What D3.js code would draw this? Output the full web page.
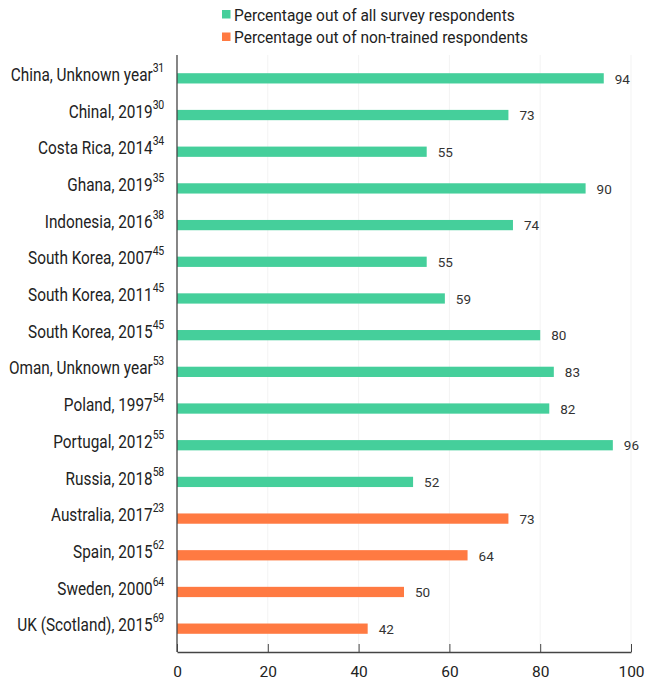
<!DOCTYPE html>
<html><head><meta charset="utf-8">
<script src="https://cdn.jsdelivr.net/npm/d3@7"></script>
<style>
body{margin:0;background:#fff;}
text{font-family:Roboto,"Open Sans",sans-serif;}
</style></head>
<body><svg id="c" width="647" height="687"></svg>
<script>
const categories = ["China, Unknown year","Chinal, 2019","Costa Rica, 2014","Ghana, 2019","Indonesia, 2016","South Korea, 2007","South Korea, 2011","South Korea, 2015","Oman, Unknown year","Poland, 1997","Portugal, 2012","Russia, 2018","Australia, 2017","Spain, 2015","Sweden, 2000","UK (Scotland), 2015"];
const refs = ["31","30","34","35","38","45","45","45","53","54","55","58","23","62","64","69"];
const values = [94,73,55,90,74,55,59,80,83,82,96,52,73,64,50,42];
const seriesIdx = [0,0,0,0,0,0,0,0,0,0,0,0,1,1,1,1];
const seriesNames = ["Percentage out of all survey respondents","Percentage out of non-trained respondents"];
const colors = ["#45CF9B","#FF7A42"];
const xTicks = [0,20,40,60,80,100];

const svg = d3.select("#c");
const x = d3.scaleLinear().domain([0,100]).range([177,631]);
const y = d3.scaleBand().domain(categories).range([60,647]).paddingInner(0.72).paddingOuter(0.36);
const axisY = 652;

function factor(str, size, target){
  const p = svg.append("text").attr("font-size",size).text(str);
  const w = p.node().getComputedTextLength(); p.remove();
  return Math.min(1.1, target / w);
}
const FL = factor(seriesNames[0], 17, 281);
const FC = factor(categories[0], 17.5, 142);
function place(sel, xf, yf, f){
  sel.attr("transform",(d,i)=>`translate(${xf(d,i)},${yf(d,i)}) scale(${f},1)`);
}

// faint gridlines
svg.append("g").selectAll("line").data(xTicks.slice(1)).join("line")
  .attr("x1",d=>x(d)).attr("x2",d=>x(d)).attr("y1",55).attr("y2",axisY)
  .attr("stroke","#f3f3f3").attr("stroke-width",1);

// bars
svg.append("g").selectAll("rect").data(values).join("rect")
  .attr("x",x(0)).attr("y",(d,i)=>y(categories[i]))
  .attr("width",d=>x(d)-x(0)).attr("height",y.bandwidth())
  .attr("fill",(d,i)=>colors[seriesIdx[i]]);

// value labels
svg.append("g").selectAll("text").data(values).join("text")
  .attr("x",d=>x(d)+11).attr("y",(d,i)=>y(categories[i])+y.bandwidth()/2+0.5)
  .attr("dy","0.35em").attr("font-size",13.5).attr("fill","#333")
  .text(d=>d);

// category labels with superscripts
const lab = svg.append("g").selectAll("text").data(categories).join("text")
  .attr("dy","0.15em").attr("text-anchor","end").attr("font-size",17.5).attr("fill","#222");
lab.append("tspan").text(d=>d);
lab.append("tspan").attr("font-size",12).attr("dy","-0.75em").attr("letter-spacing",-0.3).text((d,i)=>refs[i]);
place(lab,()=>164,d=>y(d)+y.bandwidth()/2,FC);

// x axis
const xa = svg.append("g").attr("transform",`translate(0,${axisY})`)
  .call(d3.axisBottom(x).tickValues(xTicks).tickSizeInner(-8).tickSizeOuter(0).tickPadding(16));
xa.select(".domain").attr("stroke","#444").attr("stroke-width",1.3);
xa.selectAll(".tick line").attr("stroke","#444");
xa.selectAll(".tick text").attr("font-size",15.5).attr("fill","#222").attr("dy","0.55em");
// y axis line
svg.append("line").attr("x1",x(0)).attr("x2",x(0)).attr("y1",55).attr("y2",axisY)
  .attr("stroke","#444").attr("stroke-width",1.3);

// legend
const lg = svg.append("g").selectAll("g").data(seriesNames).join("g")
  .attr("transform",(d,i)=>`translate(222,${14.5+i*22.5})`);
lg.append("rect").attr("x",0).attr("y",-4.5).attr("width",8.5).attr("height",8.5)
  .attr("fill",(d,i)=>colors[i]);
const lt = lg.append("text").attr("dy","0.35em").attr("font-size",17).attr("fill","#222").text(d=>d);
place(lt,()=>12,()=>0.5,FL);
</script></body></html>
